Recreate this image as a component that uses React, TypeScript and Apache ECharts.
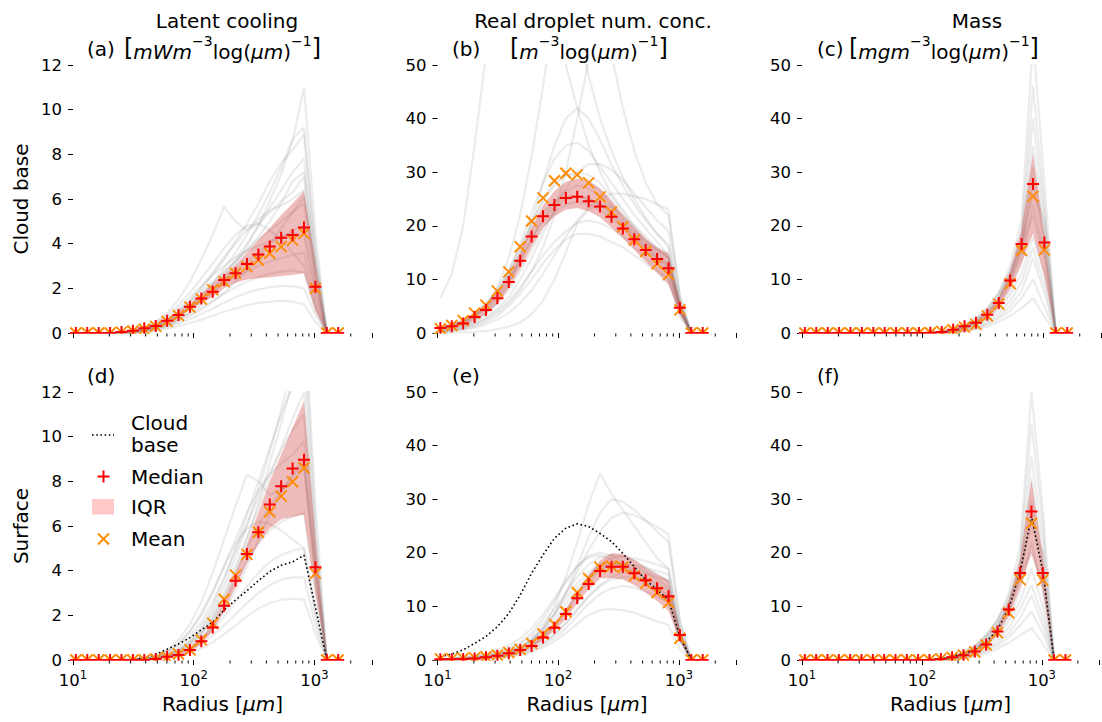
import React, { useEffect, useRef } from "react";
import * as echarts from "echarts";

const FONT = '"DejaVu Sans", "Liberation Sans", sans-serif';

// Bin-centre radii (µm)
const radius = [10.56, 13.13, 16.32, 20.29, 25.22, 31.35, 38.96, 48.43, 60.2, 74.84, 93.05, 115.7, 143.8, 178.7, 222.2, 276.2, 343.3, 426.8, 530.5, 659.5, 819.8, 1019, 1267, 1575];
const minorTickValues = [20, 30, 40, 50, 60, 70, 80, 90, 200, 300, 400, 500, 600, 700, 800, 900, 2000];

const columnTitles = ["Latent cooling", "Real droplet num. conc.", "Mass"];
const panelTags = ["(a)", "(b)", "(c)", "(d)", "(e)", "(f)"];
const rowLabels = ["Cloud base", "Surface"];
const unitLabels = [
  "{br|[}{i|mWm}{sup|\u22123}{n|log(}{i|\u03bcm}{n|)}{sup|\u22121}{br|]}",
  "{br|[}{i|m}{sup|\u22123}{n|log(}{i|\u03bcm}{n|)}{sup|\u22121}{br|]}",
  "{br|[}{i|mgm}{sup|\u22123}{n|log(}{i|\u03bcm}{n|)}{sup|\u22121}{br|]}",
];
const legendLabels = ["Cloud", "base", "Median", "IQR", "Mean"];

// ---------- (a) Latent cooling, cloud base ----------
const medianA = [0, 0, 0, 0, 0.05, 0.1, 0.21, 0.31, 0.55, 0.81, 1.18, 1.55, 1.85, 2.37, 2.67, 3.09, 3.52, 3.87, 4.27, 4.39, 4.72, 2.07, 0, 0];
const meanA = [0, 0, 0, 0, 0.04, 0.09, 0.17, 0.3, 0.52, 0.78, 1.16, 1.52, 1.93, 2.3, 2.67, 2.97, 3.27, 3.57, 3.87, 4.16, 4.46, 2.0, 0, 0];
const iqrLowA = [0, 0, 0, 0, 0.02, 0.06, 0.15, 0.25, 0.46, 0.7, 1.04, 1.35, 1.6, 2.0, 2.25, 2.4, 2.45, 2.5, 2.55, 2.6, 2.67, 1.0, 0, 0];
const iqrHighA = [0, 0, 0, 0, 0.07, 0.14, 0.27, 0.38, 0.65, 0.93, 1.32, 1.76, 2.2, 2.62, 3.05, 3.6, 4.16, 4.7, 5.28, 5.8, 6.36, 3.2, 0, 0];
const grayA = [
  [0, 0, 0, 0, 0.02, 0.05, 0.1, 0.2, 0.35, 0.6, 0.9, 1.3, 1.8, 2.4, 3.1, 3.9, 4.8, 5.9, 7.1, 8.6, 11.0, 4.5, 0, 0],
  [0, 0, 0, 0, 0.02, 0.06, 0.12, 0.25, 0.45, 0.75, 1.15, 1.6, 2.2, 2.9, 3.6, 4.4, 5.3, 6.3, 7.4, 8.7, 9.2, 3.8, 0, 0],
  [0, 0, 0, 0, 0.03, 0.08, 0.18, 0.35, 0.6, 0.95, 1.4, 1.95, 2.6, 3.3, 4.1, 4.9, 5.8, 6.8, 7.6, 8.2, 8.9, 3.5, 0, 0],
  [0, 0, 0, 0, 0.01, 0.04, 0.1, 0.2, 0.35, 0.6, 0.95, 1.4, 1.95, 2.6, 3.3, 4.0, 4.8, 5.6, 6.4, 7.2, 7.8, 3.0, 0, 0],
  [0, 0, 0, 0, 0.03, 0.1, 0.25, 0.5, 0.9, 1.5, 2.3, 3.3, 4.4, 5.66, 5.0, 4.6, 4.9, 5.4, 5.9, 6.3, 7.0, 2.6, 0, 0],
  [0, 0, 0, 0, 0.02, 0.07, 0.16, 0.32, 0.58, 0.95, 1.45, 2.05, 2.7, 3.4, 4.0, 4.6, 5.1, 5.5, 5.7, 6.0, 6.4, 2.4, 0, 0],
  [0, 0, 0, 0, 0.02, 0.06, 0.14, 0.27, 0.48, 0.8, 1.2, 1.7, 2.2, 2.7, 3.2, 3.7, 4.2, 4.6, 5.0, 5.4, 5.8, 2.2, 0, 0],
  [0, 0, 0, 0, 0.01, 0.05, 0.12, 0.25, 0.45, 0.75, 1.1, 1.5, 1.95, 2.4, 2.8, 3.2, 3.6, 4.0, 4.3, 4.6, 4.8, 1.9, 0, 0],
  [0, 0, 0, 0, 0.03, 0.09, 0.2, 0.4, 0.7, 1.1, 1.6, 2.1, 2.6, 3.0, 3.4, 3.7, 3.9, 4.1, 4.3, 4.5, 4.4, 1.6, 0, 0],
  [0, 0, 0, 0, 0.02, 0.06, 0.14, 0.28, 0.5, 0.8, 1.15, 1.5, 1.85, 2.2, 2.5, 2.75, 3.0, 3.2, 3.35, 3.5, 3.6, 1.3, 0, 0],
  [0, 0, 0, 0, 0.01, 0.04, 0.1, 0.2, 0.36, 0.58, 0.85, 1.15, 1.45, 1.75, 2.05, 2.3, 2.5, 2.65, 2.75, 2.8, 2.7, 1.0, 0, 0],
  [0, 0, 0, 0, 0.01, 0.03, 0.07, 0.14, 0.26, 0.42, 0.62, 0.85, 1.1, 1.35, 1.6, 1.8, 1.95, 2.05, 2.1, 2.1, 2.0, 0.8, 0, 0],
  [0, 0, 0, 0, 0, 0.02, 0.05, 0.1, 0.18, 0.3, 0.45, 0.6, 0.78, 0.95, 1.1, 1.25, 1.35, 1.4, 1.45, 1.4, 1.3, 0.5, 0, 0],
  [0, 0, 0, 0, 0.02, 0.07, 0.18, 0.36, 0.62, 0.98, 1.4, 1.85, 2.3, 2.75, 3.2, 3.7, 4.3, 5.0, 5.8, 6.8, 7.2, 3.3, 0, 0],
  [0, 0, 0, 0, 0.03, 0.1, 0.22, 0.45, 0.8, 1.25, 1.8, 2.45, 3.1, 3.8, 4.4, 4.8, 4.9, 4.6, 4.2, 3.6, 3.0, 1.2, 0, 0],
  [0, 0, 0, 0, 0.01, 0.03, 0.08, 0.16, 0.3, 0.5, 0.75, 1.05, 1.4, 1.8, 2.3, 2.8, 3.4, 4.0, 4.7, 5.4, 6.1, 2.9, 0, 0],
];

// ---------- (b) Droplet number, cloud base ----------
const medianB = [0.93, 1.25, 1.75, 3.0, 4.3, 6.5, 9.5, 13.5, 18.0, 21.8, 23.9, 25.2, 25.4, 24.6, 23.6, 21.7, 19.5, 17.5, 15.5, 13.8, 12.1, 4.7, 0, 0];
const meanB = [0.8, 1.4, 2.3, 3.7, 5.2, 7.8, 11.4, 16.1, 20.9, 25.2, 28.4, 29.8, 29.5, 28.0, 25.4, 22.6, 19.8, 17.35, 15.2, 12.9, 10.9, 4.3, 0, 0];
const iqrLowB = [0.7, 1.0, 1.4, 2.4, 3.6, 5.6, 8.3, 12, 16, 19.7, 21.8, 23, 23.3, 22.7, 21.6, 19.7, 17.7, 15.5, 13.3, 11.2, 9.0, 3.5, 0, 0];
const iqrHighB = [1.2, 1.6, 2.3, 3.7, 5.3, 7.6, 10.8, 15, 19.8, 23.8, 26.5, 28.2, 28.8, 28.3, 27, 24.8, 22, 19.7, 17.6, 16, 14.9, 5.8, 0, 0];
const grayB = [
  [6.5, 11, 20, 35, 52, 68, 80, 85, 80, 70, 60, 50, 42, 35, 30, 26, 23, 20, 17.5, 15.5, 14, 5, 0, 0],
  [0.5, 1, 1.8, 3, 5, 8.5, 14, 22, 33, 46, 60, 65, 58, 48, 40, 34, 29, 25, 21.5, 18.5, 16, 5.5, 0, 0],
  [0.2, 0.5, 0.9, 1.5, 2.4, 3.7, 5.5, 8, 11.5, 16, 22, 30, 40, 51, 58, 52, 42, 34, 28, 24, 22, 7, 0, 0],
  [0.3, 0.7, 1.3, 2.2, 3.6, 5.8, 9, 14, 20.5, 28, 35, 40, 42, 40, 36, 31.5, 27.5, 24, 21, 18.5, 16.5, 5.5, 0, 0],
  [0.8, 1.4, 2.2, 3.5, 5.2, 7.8, 11.5, 16.5, 22.5, 28, 32.5, 35, 35.5, 34, 31, 28, 25, 22, 19.5, 17, 14.5, 5, 0, 0],
  [1, 1.6, 2.5, 3.8, 5.6, 8.2, 11.8, 16, 20.5, 24.5, 27.5, 29.5, 30, 29.5, 28, 25.5, 22.5, 19.5, 17, 15, 13, 4.5, 0, 0],
  [0.6, 1.1, 1.8, 2.9, 4.4, 6.6, 9.6, 13.5, 17.5, 21.5, 24.5, 26.5, 27.5, 27, 25.5, 23.5, 21, 18.5, 16.5, 14.5, 12.5, 4.5, 0, 0],
  [0.8, 1.3, 2.1, 3.2, 4.8, 7, 10, 13.5, 17.5, 21, 23.5, 25, 25.5, 25, 24, 22, 20, 18, 16, 14, 12, 4, 0, 0],
  [0.1, 0.3, 0.6, 1, 1.6, 2.5, 3.8, 5.6, 8, 11, 14.5, 18, 21, 23.5, 25, 26, 26, 25.5, 25, 24, 23, 7, 0, 0],
  [0.4, 0.8, 1.4, 2.3, 3.6, 5.5, 8, 11.5, 15.5, 19.5, 22.5, 24, 24.5, 24, 23, 21.5, 19.5, 17.5, 15.5, 13.5, 11.5, 4, 0, 0],
  [0.3, 0.6, 1, 1.7, 2.7, 4.1, 6, 8.5, 11.5, 14.5, 17, 19, 20.5, 21, 20.5, 19.5, 18, 16, 14, 12, 10, 3.5, 0, 0],
  [0, 0, 0.1, 0.2, 0.4, 0.7, 1.2, 2, 3.5, 6, 10, 15, 20.5, 23, 24, 23.5, 22, 20, 18, 16, 14, 5, 0, 0],
  [0.2, 0.4, 0.7, 1.2, 2, 3.2, 5, 7.3, 10, 13, 15.5, 17.5, 18.5, 18.5, 18, 17, 16, 14.5, 13, 11.5, 10, 3, 0, 0],
  [0.6, 1.2, 2, 3.2, 5, 7.5, 11, 15.5, 20.5, 25, 28, 29.5, 29.5, 28.5, 26.5, 24, 21.5, 19, 17, 15.5, 14, 5, 0, 0],
  [0.9, 1.5, 2.4, 3.6, 5.3, 7.7, 11, 15, 19, 22.5, 24.5, 25.5, 25.5, 25, 24, 22.5, 20.5, 18, 16, 14, 12.5, 4, 0, 0],
  [0.3, 0.6, 1.1, 1.8, 2.9, 4.5, 6.8, 10, 14, 18.5, 23, 27, 30, 31.5, 31.5, 30.5, 28.5, 26, 23.5, 21, 19, 6, 0, 0],
];

// ---------- (c) Mass, cloud base ----------
const medianC = [0, 0, 0, 0, 0, 0, 0, 0, 0, 0, 0, 0.05, 0.2, 0.6, 1.25, 1.9, 3.4, 5.6, 9.8, 16.6, 27.8, 16.9, 0, 0];
const meanC = [0, 0, 0, 0, 0, 0, 0, 0, 0, 0, 0, 0.05, 0.3, 0.6, 1.1, 1.6, 3.2, 5.4, 9.2, 15.4, 25.5, 15.5, 0, 0];
const iqrLowC = [0, 0, 0, 0, 0, 0, 0, 0, 0, 0, 0, 0, 0.1, 0.45, 1.0, 1.6, 2.9, 4.8, 8.3, 13, 18.6, 10.5, 0, 0];
const iqrHighC = [0, 0, 0, 0, 0, 0, 0, 0, 0, 0, 0, 0.1, 0.3, 0.8, 1.5, 2.3, 4.0, 6.6, 11.5, 19.5, 33.5, 18.5, 0, 0];
const grayC = [
  [0, 0, 0, 0, 0, 0, 0, 0, 0, 0, 0, 0.05, 0.2, 0.5, 1.2, 2.4, 4.5, 7.5, 12.5, 21, 55, 28, 0, 0],
  [0, 0, 0, 0, 0, 0, 0, 0, 0, 0, 0, 0.05, 0.2, 0.6, 1.3, 2.5, 4.4, 7.2, 11.5, 19, 46, 24, 0, 0],
  [0, 0, 0, 0, 0, 0, 0, 0, 0, 0, 0, 0.03, 0.15, 0.45, 1.0, 2.0, 3.7, 6.3, 10.5, 17.5, 40, 22, 0, 0],
  [0, 0, 0, 0, 0, 0, 0, 0, 0, 0, 0, 0.04, 0.18, 0.5, 1.1, 2.2, 3.9, 6.5, 10.5, 16.5, 35, 20, 0, 0],
  [0, 0, 0, 0, 0, 0, 0, 0, 0, 0, 0, 0.02, 0.1, 0.35, 0.8, 1.7, 3.2, 5.7, 9.5, 15.5, 31, 18, 0, 0],
  [0, 0, 0, 0, 0, 0, 0, 0, 0, 0, 0, 0.03, 0.12, 0.4, 0.9, 1.8, 3.3, 5.6, 9.2, 15, 28, 17, 0, 0],
  [0, 0, 0, 0, 0, 0, 0, 0, 0, 0, 0, 0.02, 0.1, 0.3, 0.75, 1.5, 2.8, 4.8, 8, 13, 24, 15, 0, 0],
  [0, 0, 0, 0, 0, 0, 0, 0, 0, 0, 0, 0.02, 0.09, 0.28, 0.7, 1.4, 2.6, 4.5, 7.2, 11, 18, 11, 0, 0],
  [0, 0, 0, 0, 0, 0, 0, 0, 0, 0, 0, 0.01, 0.07, 0.22, 0.55, 1.1, 2.1, 3.7, 6, 9.5, 16, 9, 0, 0],
  [0, 0, 0, 0, 0, 0, 0, 0, 0, 0, 0, 0.01, 0.05, 0.18, 0.45, 0.95, 1.8, 3.1, 5, 7.8, 14, 7.5, 0, 0],
  [0, 0, 0, 0, 0, 0, 0, 0, 0, 0, 0, 0.01, 0.05, 0.15, 0.4, 0.85, 1.6, 2.7, 4.2, 6.5, 10, 5, 0, 0],
  [0, 0, 0, 0, 0, 0, 0, 0, 0, 0, 0, 0.01, 0.03, 0.1, 0.3, 0.65, 1.2, 2.1, 3.2, 4.6, 6.5, 3, 0, 0],
  [0, 0, 0, 0, 0, 0, 0, 0, 0, 0, 0, 0.05, 0.25, 0.7, 1.5, 2.8, 4.7, 7.5, 11.5, 17, 26, 21, 0, 0],
  [0, 0, 0, 0, 0, 0, 0, 0, 0, 0, 0, 0.04, 0.2, 0.55, 1.2, 2.3, 4, 6.6, 10.5, 16, 22, 14, 0, 0],
];

// ---------- (d) Latent cooling, surface ----------
const medianD = [0, 0, 0, 0, 0, 0, 0, 0.05, 0.15, 0.22, 0.45, 0.84, 1.46, 2.43, 3.55, 4.75, 5.72, 6.96, 7.78, 8.58, 8.97, 4.15, 0, 0];
const meanD = [0, 0, 0, 0, 0, 0, 0, 0.05, 0.12, 0.27, 0.45, 0.9, 1.64, 2.72, 3.8, 4.73, 5.72, 6.64, 7.34, 7.98, 8.61, 3.88, 0, 0];
const iqrLowD = [0, 0, 0, 0, 0, 0, 0, 0.03, 0.1, 0.17, 0.36, 0.7, 1.3, 2.2, 3.25, 4.35, 5.2, 5.9, 6.3, 6.4, 6.5, 3.0, 0, 0];
const iqrHighD = [0, 0, 0, 0, 0, 0, 0, 0.08, 0.2, 0.3, 0.56, 1.0, 1.65, 2.65, 3.9, 5.2, 6.6, 8.0, 9.2, 10.4, 11.6, 5.5, 0, 0];
const cloudBaseD = [0, 0, 0, 0, 0, 0.02, 0.1, 0.25, 0.48, 0.72, 1.0, 1.35, 1.69, 2.24, 2.69, 3.1, 3.55, 3.96, 4.24, 4.39, 4.69, 2.37, 0, 0];
const grayD = [
  [0, 0, 0, 0, 0, 0.01, 0.03, 0.08, 0.18, 0.35, 0.65, 1.1, 1.8, 2.8, 4.0, 5.4, 7.0, 8.8, 10.6, 12.5, 15, 6, 0, 0],
  [0, 0, 0, 0, 0, 0.02, 0.05, 0.12, 0.25, 0.5, 0.9, 1.5, 2.4, 3.6, 5.0, 6.5, 8.0, 9.5, 11.0, 12.3, 13.5, 5.5, 0, 0],
  [0, 0, 0, 0, 0, 0.01, 0.04, 0.1, 0.22, 0.45, 0.8, 1.3, 2.05, 3.0, 4.2, 5.5, 6.8, 8.2, 9.5, 10.8, 12.0, 5.0, 0, 0],
  [0, 0, 0, 0, 0, 0.02, 0.06, 0.15, 0.32, 0.6, 1.05, 1.7, 2.6, 3.7, 4.9, 6.1, 7.3, 8.4, 9.4, 10.3, 11.0, 4.6, 0, 0],
  [0, 0, 0, 0, 0, 0.02, 0.07, 0.2, 0.45, 0.9, 1.6, 2.6, 3.9, 5.4, 6.9, 8.3, 8.0, 7.4, 7.6, 8.0, 8.6, 3.6, 0, 0],
  [0, 0, 0, 0, 0, 0.01, 0.03, 0.08, 0.18, 0.38, 0.7, 1.2, 1.9, 2.8, 3.9, 5.0, 6.0, 6.9, 7.6, 8.2, 8.8, 3.9, 0, 0],
  [0, 0, 0, 0, 0, 0.01, 0.04, 0.1, 0.22, 0.42, 0.75, 1.2, 1.8, 2.6, 3.5, 4.4, 5.2, 5.8, 6.2, 6.4, 6.6, 2.9, 0, 0],
  [0, 0, 0, 0, 0, 0.01, 0.03, 0.07, 0.16, 0.3, 0.55, 0.9, 1.35, 1.95, 2.6, 3.3, 3.9, 4.4, 4.7, 4.9, 5.0, 2.2, 0, 0],
  [0, 0, 0, 0, 0, 0.01, 0.02, 0.05, 0.12, 0.24, 0.44, 0.72, 1.1, 1.55, 2.05, 2.55, 3.0, 3.35, 3.6, 3.7, 3.7, 1.6, 0, 0],
  [0, 0, 0, 0, 0, 0, 0.02, 0.04, 0.09, 0.18, 0.32, 0.52, 0.8, 1.15, 1.55, 1.95, 2.3, 2.55, 2.7, 2.75, 2.7, 1.2, 0, 0],
  [0, 0, 0, 0, 0, 0.02, 0.06, 0.16, 0.35, 0.7, 1.25, 2.0, 3.0, 4.2, 5.4, 6.6, 7.6, 8.3, 8.8, 9.2, 9.8, 4.2, 0, 0],
  [0, 0, 0, 0, 0, 0.01, 0.03, 0.08, 0.2, 0.42, 0.8, 1.4, 2.2, 3.3, 4.6, 6.0, 7.6, 9.3, 11.2, 13.2, 16.0, 7, 0, 0],
  [0, 0, 0, 0, 0, 0.01, 0.03, 0.07, 0.15, 0.3, 0.55, 0.95, 1.5, 2.2, 3.1, 4.2, 5.4, 6.5, 7.5, 8.3, 9.0, 4.0, 0, 0],
  [0, 0, 0, 0, 0, 0.02, 0.06, 0.16, 0.36, 0.72, 1.3, 2.1, 3.1, 4.2, 5.2, 5.9, 6.2, 6.1, 5.8, 5.4, 5.0, 2.0, 0, 0],
];

// ---------- (e) Droplet number, surface ----------
const medianE = [0.15, 0.15, 0.2, 0.3, 0.5, 0.8, 1.24, 1.87, 2.6, 4.2, 6.0, 8.6, 11.5, 14.2, 16.6, 17.4, 17.4, 16.2, 14.9, 13.4, 11.9, 4.66, 0, 0];
const meanE = [0.2, 0.2, 0.3, 0.4, 0.6, 0.9, 1.4, 1.97, 3.1, 4.85, 6.65, 9.0, 12.6, 15.2, 17.3, 17.5, 17.3, 15.7, 14.3, 12.6, 10.7, 4.05, 0, 0];
const iqrLowE = [0.1, 0.1, 0.15, 0.22, 0.4, 0.65, 1.0, 1.55, 2.2, 3.6, 5.5, 7.6, 10.6, 13.2, 15.2, 15.3, 15.0, 14.0, 12.6, 11.0, 9.2, 3.5, 0, 0];
const iqrHighE = [0.25, 0.25, 0.3, 0.42, 0.65, 1.0, 1.5, 2.25, 3.1, 4.9, 7.1, 9.6, 12.7, 15.8, 18.6, 19.9, 19.8, 18.7, 17.2, 16.0, 14.9, 5.5, 0, 0];
const cloudBaseE = [0.6, 1.1, 1.9, 3.1, 4.4, 6.2, 8.7, 12.1, 16.2, 19.6, 22.7, 24.6, 25.4, 24.9, 23.6, 22.1, 19.9, 17.4, 14.9, 13.1, 11.2, 4.4, 0, 0];
const grayE = [
  [0.1, 0.2, 0.3, 0.4, 0.6, 0.9, 1.4, 2.2, 3.6, 6, 10, 15.5, 22, 29, 34.8, 31, 28, 25, 22, 19, 17, 6, 0, 0],
  [0.1, 0.2, 0.3, 0.45, 0.7, 1.0, 1.5, 2.3, 3.6, 5.5, 8.5, 12.5, 17.5, 23, 27.5, 30, 29.5, 28, 26, 24, 22, 7, 0, 0],
  [0, 0.1, 0.2, 0.3, 0.45, 0.7, 1.1, 1.7, 2.7, 4.2, 6.3, 9.2, 12.5, 15.5, 17.8, 19, 19.3, 19, 18.5, 17.8, 17, 5.5, 0, 0],
  [0.2, 0.3, 0.45, 0.65, 0.95, 1.4, 2.1, 3.2, 5, 7.6, 11, 14.5, 17.5, 19.5, 20, 19.5, 18.3, 16.8, 15.2, 13.6, 12, 4, 0, 0],
  [0.1, 0.2, 0.3, 0.5, 0.75, 1.1, 1.6, 2.5, 3.9, 6, 8.6, 11.5, 14.3, 16.5, 17.8, 18, 17.5, 16.6, 15.4, 14.2, 13, 4.5, 0, 0],
  [0.1, 0.15, 0.25, 0.35, 0.5, 0.75, 1.1, 1.7, 2.7, 4.2, 6.3, 9, 12, 14.8, 16.8, 17.8, 18, 17.5, 16.5, 15, 13.5, 4.5, 0, 0],
  [0, 0.1, 0.15, 0.25, 0.35, 0.55, 0.85, 1.3, 2, 3.1, 4.7, 6.8, 9.3, 11.8, 13.8, 15, 15.5, 15.3, 14.5, 13.3, 12, 4, 0, 0],
  [0, 0.05, 0.1, 0.15, 0.25, 0.4, 0.6, 0.95, 1.5, 2.3, 3.5, 5, 6.8, 8.4, 9.3, 9.5, 9.3, 8.8, 8, 7.2, 6.5, 2, 0, 0],
  [0.2, 0.35, 0.55, 0.8, 1.2, 1.8, 2.7, 4, 5.9, 8.4, 11.5, 14.8, 17.5, 19.2, 19.5, 18.8, 17.5, 16, 14.3, 12.7, 11, 3.5, 0, 0],
  [0.1, 0.2, 0.3, 0.45, 0.65, 1, 1.5, 2.3, 3.5, 5.3, 7.6, 10.4, 13.4, 15.8, 17.3, 18, 18, 17.7, 17.2, 16.6, 16, 5, 0, 0],
  [0.1, 0.2, 0.35, 0.55, 0.85, 1.3, 2, 3, 4.5, 6.7, 9.5, 12.6, 15.5, 17.8, 19.2, 19.6, 19.3, 18.5, 17.3, 16, 14.8, 5, 0, 0],
  [0, 0.1, 0.15, 0.25, 0.4, 0.6, 0.9, 1.35, 2.1, 3.2, 4.8, 6.9, 9.5, 12, 14, 15.5, 16.3, 16.5, 16.2, 15.5, 14.7, 5, 0, 0],
  [0.1, 0.2, 0.3, 0.45, 0.7, 1.05, 1.6, 2.4, 3.7, 5.7, 8.5, 12.2, 16.5, 20.5, 24, 26.5, 27.5, 27, 26, 24.8, 23.5, 7.5, 0, 0],
  [0, 0.05, 0.1, 0.2, 0.3, 0.45, 0.7, 1.1, 1.7, 2.7, 4.1, 5.9, 8.2, 10.5, 12.3, 13.4, 13.8, 13.5, 12.8, 11.8, 10.8, 3.5, 0, 0],
];

// ---------- (f) Mass, surface ----------
const medianF = [0, 0, 0, 0, 0, 0, 0, 0, 0, 0, 0, 0, 0.2, 0.5, 0.9, 1.6, 2.9, 5.3, 9.4, 16.25, 27.7, 16.25, 0, 0];
const meanF = [0, 0, 0, 0, 0, 0, 0, 0, 0, 0, 0, 0, 0.2, 0.5, 0.9, 1.5, 2.8, 5.1, 8.8, 15.0, 25.5, 14.9, 0, 0];
const iqrLowF = [0, 0, 0, 0, 0, 0, 0, 0, 0, 0, 0, 0, 0.1, 0.4, 0.8, 1.4, 2.6, 4.7, 8.2, 13.5, 20, 13, 0, 0];
const iqrHighF = [0, 0, 0, 0, 0, 0, 0, 0, 0, 0, 0, 0, 0.3, 0.7, 1.1, 1.9, 3.3, 6.1, 11.0, 19.0, 33.5, 19.5, 0, 0];
const cloudBaseF = [0, 0, 0, 0, 0, 0, 0, 0, 0, 0, 0, 0, 0.2, 0.6, 1.25, 1.9, 3.4, 5.6, 9.6, 16.4, 26.8, 16.6, 0, 0];
const grayF = [
  [0, 0, 0, 0, 0, 0, 0, 0, 0, 0, 0, 0.05, 0.2, 0.5, 1.2, 2.4, 4.5, 7.5, 12.5, 21, 50, 28, 0, 0],
  [0, 0, 0, 0, 0, 0, 0, 0, 0, 0, 0, 0.05, 0.2, 0.55, 1.3, 2.5, 4.4, 7.2, 11.5, 19, 44, 25, 0, 0],
  [0, 0, 0, 0, 0, 0, 0, 0, 0, 0, 0, 0.03, 0.15, 0.45, 1.0, 2.0, 3.7, 6.3, 10.5, 17.5, 38, 22, 0, 0],
  [0, 0, 0, 0, 0, 0, 0, 0, 0, 0, 0, 0.04, 0.18, 0.5, 1.1, 2.2, 3.9, 6.5, 10.5, 16.5, 34, 19, 0, 0],
  [0, 0, 0, 0, 0, 0, 0, 0, 0, 0, 0, 0.02, 0.1, 0.35, 0.8, 1.7, 3.2, 5.7, 9.5, 15.5, 30, 17, 0, 0],
  [0, 0, 0, 0, 0, 0, 0, 0, 0, 0, 0, 0.03, 0.12, 0.4, 0.9, 1.8, 3.3, 5.6, 9.2, 15, 27, 16, 0, 0],
  [0, 0, 0, 0, 0, 0, 0, 0, 0, 0, 0, 0.02, 0.1, 0.3, 0.75, 1.5, 2.8, 4.8, 8, 13, 22, 13, 0, 0],
  [0, 0, 0, 0, 0, 0, 0, 0, 0, 0, 0, 0.02, 0.09, 0.28, 0.7, 1.4, 2.6, 4.5, 7.2, 11, 17, 10, 0, 0],
  [0, 0, 0, 0, 0, 0, 0, 0, 0, 0, 0, 0.01, 0.07, 0.22, 0.55, 1.1, 2.1, 3.7, 6, 9.5, 14, 8, 0, 0],
  [0, 0, 0, 0, 0, 0, 0, 0, 0, 0, 0, 0.01, 0.05, 0.18, 0.45, 0.95, 1.8, 3.1, 5, 7.8, 12, 6.5, 0, 0],
  [0, 0, 0, 0, 0, 0, 0, 0, 0, 0, 0, 0.01, 0.05, 0.15, 0.4, 0.85, 1.6, 2.7, 4.2, 6.5, 9, 5, 0, 0],
  [0, 0, 0, 0, 0, 0, 0, 0, 0, 0, 0, 0.01, 0.03, 0.1, 0.3, 0.65, 1.2, 2.1, 3.2, 4.6, 6, 3, 0, 0],
  [0, 0, 0, 0, 0, 0, 0, 0, 0, 0, 0, 0.05, 0.25, 0.7, 1.5, 2.8, 4.7, 7.5, 11.5, 17, 25, 20, 0, 0],
  [0, 0, 0, 0, 0, 0, 0, 0, 0, 0, 0, 0.04, 0.2, 0.55, 1.2, 2.3, 4, 6.6, 10.5, 16, 20, 14, 0, 0],
];

const panels = [
  { gray: grayA, median: medianA, mean: meanA, lo: iqrLowA, hi: iqrHighA, base: null as number[] | null, yMax: 12, yStep: 2 },
  { gray: grayB, median: medianB, mean: meanB, lo: iqrLowB, hi: iqrHighB, base: null as number[] | null, yMax: 50, yStep: 10 },
  { gray: grayC, median: medianC, mean: meanC, lo: iqrLowC, hi: iqrHighC, base: null as number[] | null, yMax: 50, yStep: 10 },
  { gray: grayD, median: medianD, mean: meanD, lo: iqrLowD, hi: iqrHighD, base: cloudBaseD, yMax: 12, yStep: 2 },
  { gray: grayE, median: medianE, mean: meanE, lo: iqrLowE, hi: iqrHighE, base: cloudBaseE, yMax: 50, yStep: 10 },
  { gray: grayF, median: medianF, mean: meanF, lo: iqrLowF, hi: iqrHighF, base: cloudBaseF, yMax: 50, yStep: 10 },
];

// layout
const COLS = [73, 437.5, 802];
const ROWS = [65, 392];
const PW = 299;
const PH = 268;

const PLUS = "path://M0,-1L0,1M-1,0L1,0";
const CROSS = "path://M-1,-1L1,1M-1,1L1,-1";
const RED = "#ff0000";
const ORANGE = "#ff8c00";
const GRAY = "rgba(128,128,128,0.15)";
const PINK = "rgba(255,0,0,0.21)";
const BAND = "rgba(200,25,25,0.29)";

const pairs = (ys: number[]) => radius.map((r, i) => [r, ys[i]]);

function buildOption() {
  const grid: any[] = [];
  const xAxis: any[] = [];
  const yAxis: any[] = [];
  const series: any[] = [];
  const graphic: any[] = [];

  panels.forEach((p, g) => {
    const col = g % 3;
    const row = Math.floor(g / 3);
    const left = COLS[col];
    const top = ROWS[row];
    grid.push({ left, top, width: PW, height: PH, containLabel: false });
    const bottomRow = row === 1;
    xAxis.push({
      type: "log",
      logBase: 10,
      gridIndex: g,
      min: 10,
      max: 3000,
      z: 70,
      axisLine: { show: false },
      splitLine: { show: false },
      axisTick: { show: true, length: 5, lineStyle: { color: "#000", width: 1 } },
      axisLabel: {
        show: bottomRow,
        margin: 9,
        formatter: (v: number) => {
          const e = Math.log10(v);
          if (Math.abs(e - Math.round(e)) > 1e-6) return "";
          return "{b|10}{s|" + Math.round(e) + "}";
        },
        rich: {
          b: { fontSize: 16.5, fontFamily: FONT, color: "#000", lineHeight: 20, verticalAlign: "bottom" },
          s: { fontSize: 11.5, fontFamily: FONT, color: "#000", lineHeight: 12, verticalAlign: "top" },
        },
      },
      name: bottomRow ? "{n|Radius [}{i|\u03bcm}{n|]}" : "",
      nameLocation: "middle",
      nameGap: 34,
      nameTextStyle: {
        rich: {
          n: { fontSize: 20, fontFamily: FONT, color: "#000" },
          i: { fontSize: 20, fontFamily: FONT, fontStyle: "italic", color: "#000" },
        },
      },
    });
    yAxis.push({
      type: "value",
      gridIndex: g,
      min: 0,
      max: p.yMax,
      interval: p.yStep,
      axisLine: { show: false },
      splitLine: { show: false },
      axisTick: { show: true, length: 5, lineStyle: { color: "#000", width: 1 } },
      axisLabel: { fontSize: 16.5, fontFamily: FONT, color: "#000", margin: 11 },
    });

    const common = { xAxisIndex: g, yAxisIndex: g, silent: true, animation: false };

    p.gray.forEach((line) => {
      series.push({
        ...common,
        type: "line",
        data: pairs(line),
        symbol: "none",
        lineStyle: { color: GRAY, width: 2.2 },
        z: 1,
      });
    });

    // IQR band drawn as a polygon through the axis scales
    const lo = p.lo;
    const hi = p.hi;
    series.push({
      ...common,
      type: "custom",
      data: [[radius[0], 0]],
      clip: true,
      z: 2,
      renderItem: (_params: any, api: any) => {
        const pts: number[][] = [];
        for (let i = 0; i < radius.length; i++) pts.push(api.coord([radius[i], hi[i]]));
        for (let i = radius.length - 1; i >= 0; i--) pts.push(api.coord([radius[i], lo[i]]));
        return { type: "polygon", shape: { points: pts }, style: { fill: BAND, stroke: "none" } };
      },
    });

    if (p.base) {
      series.push({
        ...common,
        type: "line",
        data: pairs(p.base),
        symbol: "none",
        lineStyle: { color: "#000", width: 1.6, type: [1.6, 2.6] },
        z: 3,
      });
    }

    series.push({
      ...common,
      type: "scatter",
      data: pairs(p.mean),
      symbol: CROSS,
      symbolSize: 11,
      itemStyle: { color: ORANGE, borderColor: ORANGE, borderWidth: 1.9, opacity: 1 },
      z: 4,
    });
    series.push({
      ...common,
      type: "scatter",
      data: pairs(p.median),
      symbol: PLUS,
      symbolSize: 12,
      itemStyle: { color: RED, borderColor: RED, borderWidth: 2, opacity: 1 },
      z: 5,
    });

    // minor ticks of log axis
    series.push({
      ...common,
      type: "scatter",
      data: minorTickValues.map((v) => [v, 0]),
      symbol: "rect",
      symbolSize: [1, 3],
      symbolOffset: [0, 2],
      itemStyle: { color: "#000", opacity: 1 },
      z: 60,
    });

    // mask below plot area (markers clipped at axes edge)
    graphic.push({
      type: "rect",
      silent: true,
      z: 50,
      shape: { x: left - 4, y: top + PH + 0.8, width: PW + 8, height: 10 },
      style: { fill: "#fff" },
    });

    // panel tag
    graphic.push({
      type: "text",
      x: [87, 452, 817][col],
      y: row === 0 ? 49 : 376,
      style: {
        text: panelTags[g],
        font: "20px " + FONT,
        fill: "#000",
        align: "left",
        textAlign: "left",
        verticalAlign: "middle",
        textVerticalAlign: "middle",
      },
    });
  });

  const titleCenters = [227, 593, 977];
  columnTitles.forEach((t, c) => {
    graphic.push({
      type: "text",
      x: titleCenters[c],
      y: 21,
      style: {
        text: t,
        font: "20px " + FONT,
        fill: "#000",
        align: "center",
        textAlign: "center",
        verticalAlign: "middle",
        textVerticalAlign: "middle",
      },
    });
  });

  const unitX = [124, 510, 849];
  unitLabels.forEach((u, c) => {
    graphic.push({
      type: "text",
      x: unitX[c],
      y: 48,
      style: {
        text: u,
        fill: "#000",
        align: "left",
        textAlign: "left",
        verticalAlign: "middle",
        textVerticalAlign: "middle",
        rich: {
          n: { fontSize: 20, fontFamily: FONT, fill: "#000", color: "#000", lineHeight: 24, verticalAlign: "bottom" },
          i: { fontSize: 20, fontFamily: FONT, fontStyle: "italic", fill: "#000", color: "#000", lineHeight: 24, verticalAlign: "bottom" },
          sup: { fontSize: 14, fontFamily: FONT, fill: "#000", color: "#000", lineHeight: 14, verticalAlign: "top" },
          br: { fontSize: 24, fontFamily: FONT, fill: "#000", color: "#000", lineHeight: 28, verticalAlign: "middle" },
        },
      },
    });
  });

  const rowCenters = [199, 526];
  rowLabels.forEach((t, r) => {
    graphic.push({
      type: "text",
      x: 21,
      y: rowCenters[r],
      rotation: Math.PI / 2,
      style: {
        text: t,
        font: "20px " + FONT,
        fill: "#000",
        align: "center",
        textAlign: "center",
        verticalAlign: "middle",
        textVerticalAlign: "middle",
      },
    });
  });

  // legend (inside panel d)
  const lx = 131;
  const txt = (s: string, y: number) => ({
    type: "text",
    x: lx,
    y,
    style: { text: s, font: "20px " + FONT, fill: "#000", align: "left", textAlign: "left", verticalAlign: "middle", textVerticalAlign: "middle" },
  });
  graphic.push(
    { type: "line", shape: { x1: 92, y1: 435, x2: 114, y2: 435 }, style: { stroke: "#000", lineWidth: 1.6, lineDash: [1.6, 2.6] } },
    txt(legendLabels[0], 423),
    txt(legendLabels[1], 445),
    { type: "line", shape: { x1: 97.5, y1: 476.5, x2: 109.5, y2: 476.5 }, style: { stroke: RED, lineWidth: 2 } },
    { type: "line", shape: { x1: 103.5, y1: 470.5, x2: 103.5, y2: 482.5 }, style: { stroke: RED, lineWidth: 2 } },
    txt(legendLabels[2], 477),
    { type: "rect", shape: { x: 92, y: 499, width: 22, height: 15.5 }, style: { fill: PINK } },
    txt(legendLabels[3], 507),
    { type: "line", shape: { x1: 98, y1: 533.5, x2: 109, y2: 544.5 }, style: { stroke: ORANGE, lineWidth: 1.9 } },
    { type: "line", shape: { x1: 98, y1: 544.5, x2: 109, y2: 533.5 }, style: { stroke: ORANGE, lineWidth: 1.9 } },
    txt(legendLabels[4], 539)
  );

  return {
    animation: false,
    backgroundColor: "#fff",
    textStyle: { fontFamily: FONT },
    grid,
    xAxis,
    yAxis,
    series,
    graphic: { elements: graphic },
  };
}

export default function App() {
  const ref = useRef<HTMLDivElement>(null);
  useEffect(() => {
    if (!ref.current) return;
    const chart = echarts.init(ref.current, null, { renderer: "svg", width: 1102, height: 722 });
    chart.setOption(buildOption() as any);
    return () => chart.dispose();
  }, []);
  return <div ref={ref} style={{ position: "absolute", left: 0, top: 0, width: 1102, height: 722 }} />;
}
